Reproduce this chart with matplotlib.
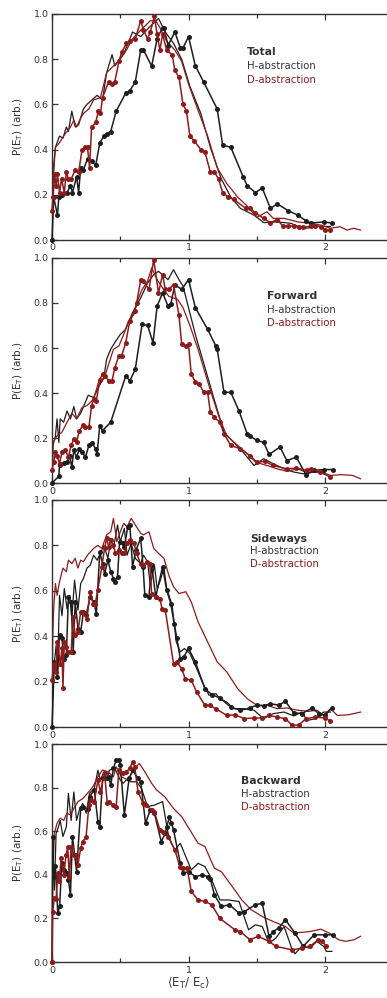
import numpy as np
import matplotlib
matplotlib.use("Agg")
import matplotlib.pyplot as plt

H_COLOR = "#1e1e1e"
D_COLOR = "#8e1b1b"
TEXT_COLOR = "#333333"

# (E_T/E_c, P) pairs; "exp" = measured with dots, "sim" = thin curve

# --- Total ---
tot_h_exp = [(0, 0), (0.012, 0.19), (0.04, 0.11), (0.05, 0.19), (0.07, 0.20), (0.11, 0.21), (0.135, 0.24),
             (0.15, 0.21), (0.18, 0.28), (0.195, 0.21), (0.21, 0.32), (0.23, 0.31), (0.26, 0.36), (0.29, 0.35),
             (0.32, 0.33), (0.35, 0.43), (0.38, 0.46), (0.40, 0.47), (0.43, 0.48), (0.47, 0.57), (0.54, 0.65),
             (0.57, 0.66), (0.61, 0.70), (0.65, 0.84), (0.67, 0.84), (0.73, 0.77), (0.77, 0.89), (0.81, 0.94),
             (0.82, 0.94), (0.85, 0.86), (0.90, 0.92), (0.94, 0.85), (0.96, 0.85), (1.0, 0.90), (1.05, 0.77),
             (1.11, 0.70), (1.21, 0.58), (1.25, 0.42), (1.31, 0.41), (1.40, 0.28), (1.43, 0.24), (1.49, 0.21),
             (1.54, 0.23), (1.60, 0.14), (1.65, 0.16), (1.73, 0.13), (1.80, 0.11), (1.86, 0.085), (1.90, 0.075),
             (1.99, 0.08), (2.05, 0.075)]
tot_h_sim = [(0, 0), (0.012, 0.33), (0.025, 0.41), (0.055, 0.46), (0.08, 0.45), (0.105, 0.50), (0.12, 0.48),
             (0.145, 0.57), (0.17, 0.50), (0.195, 0.51), (0.23, 0.58), (0.256, 0.60), (0.33, 0.64), (0.37, 0.62),
             (0.40, 0.74), (0.44, 0.82), (0.46, 0.77), (0.53, 0.83), (0.59, 0.92), (0.65, 0.90), (0.71, 0.94),
             (0.78, 0.98), (0.83, 0.92), (0.89, 0.87), (0.95, 0.80), (1.01, 0.68), (1.09, 0.56), (1.16, 0.41),
             (1.24, 0.27), (1.31, 0.19), (1.38, 0.14), (1.48, 0.11), (1.55, 0.077), (1.65, 0.08), (1.75, 0.074),
             (1.84, 0.05), (1.94, 0.06), (2.04, 0.06)]
tot_d_exp = [(0, 0.13), (0.008, 0.19), (0.02, 0.29), (0.03, 0.24), (0.04, 0.29), (0.055, 0.21), (0.07, 0.27),
             (0.09, 0.21), (0.105, 0.30), (0.12, 0.27), (0.14, 0.27), (0.17, 0.31), (0.195, 0.30), (0.22, 0.40),
             (0.245, 0.41), (0.26, 0.41), (0.275, 0.32), (0.29, 0.50), (0.32, 0.52), (0.34, 0.57), (0.355, 0.56),
             (0.37, 0.63), (0.415, 0.70), (0.44, 0.69), (0.46, 0.70), (0.49, 0.79), (0.51, 0.83), (0.545, 0.87),
             (0.57, 0.88), (0.61, 0.89), (0.65, 0.97), (0.67, 0.93), (0.70, 0.89), (0.72, 0.92), (0.75, 0.99),
             (0.77, 0.91), (0.79, 0.84), (0.81, 0.91), (0.84, 0.84), (0.88, 0.82), (0.90, 0.75), (0.93, 0.72),
             (0.96, 0.60), (0.985, 0.57), (1.01, 0.46), (1.04, 0.44), (1.09, 0.40), (1.12, 0.39), (1.16, 0.30),
             (1.19, 0.30), (1.22, 0.27), (1.25, 0.21), (1.29, 0.19), (1.33, 0.18), (1.42, 0.14), (1.45, 0.14),
             (1.49, 0.12), (1.55, 0.096), (1.60, 0.077), (1.65, 0.09), (1.69, 0.063), (1.73, 0.062), (1.77, 0.062),
             (1.81, 0.059), (1.84, 0.056), (1.90, 0.062), (1.93, 0.063), (1.97, 0.059), (2.0, 0.044), (2.04, 0.044)]
tot_d_sim = [(0, 0), (0.005, 0.24), (0.025, 0.41), (0.055, 0.43), (0.085, 0.46), (0.11, 0.48), (0.135, 0.50),
             (0.16, 0.53), (0.18, 0.50), (0.21, 0.54), (0.23, 0.56), (0.27, 0.58), (0.305, 0.62), (0.355, 0.63),
             (0.40, 0.74), (0.45, 0.77), (0.50, 0.80), (0.545, 0.84), (0.59, 0.89), (0.62, 0.91), (0.67, 0.94),
             (0.72, 0.97), (0.76, 0.97), (0.79, 0.94), (0.84, 0.88), (0.90, 0.84), (0.95, 0.79), (1.0, 0.69),
             (1.06, 0.59), (1.14, 0.46), (1.21, 0.32), (1.28, 0.25), (1.36, 0.19), (1.43, 0.15), (1.50, 0.10),
             (1.575, 0.125), (1.62, 0.096), (1.70, 0.096), (1.80, 0.08), (1.89, 0.074), (1.97, 0.066),
             (2.04, 0.052), (2.11, 0.059), (2.16, 0.044), (2.21, 0.052), (2.26, 0.044)]

# --- Forward ---
fwd_h_exp = [(0, 0), (0.05, 0.03), (0.055, 0.08), (0.085, 0.09), (0.11, 0.093), (0.13, 0.12), (0.145, 0.07),
             (0.16, 0.145), (0.18, 0.115), (0.20, 0.15), (0.22, 0.137), (0.245, 0.115), (0.27, 0.167),
             (0.29, 0.18), (0.32, 0.152), (0.33, 0.13), (0.35, 0.255), (0.37, 0.233), (0.43, 0.27), (0.54, 0.476),
             (0.57, 0.454), (0.61, 0.506), (0.66, 0.705), (0.70, 0.70), (0.74, 0.624), (0.77, 0.786),
             (0.81, 0.845), (0.85, 0.786), (0.87, 0.794), (0.90, 0.882), (0.95, 0.86), (1.0, 0.904), (1.05, 0.779),
             (1.14, 0.683), (1.20, 0.609), (1.21, 0.594), (1.26, 0.403), (1.31, 0.403), (1.37, 0.32),
             (1.43, 0.218), (1.45, 0.21), (1.50, 0.189), (1.55, 0.181), (1.59, 0.127), (1.67, 0.16), (1.72, 0.10),
             (1.79, 0.115), (1.86, 0.037), (1.92, 0.056), (1.99, 0.06), (2.06, 0.06)]
fwd_h_sim = [(0, 0), (0.007, 0.167), (0.025, 0.21), (0.037, 0.285), (0.05, 0.18), (0.06, 0.285), (0.085, 0.27),
             (0.11, 0.32), (0.135, 0.285), (0.16, 0.34), (0.18, 0.285), (0.21, 0.31), (0.245, 0.36),
             (0.265, 0.39), (0.305, 0.38), (0.34, 0.425), (0.38, 0.47), (0.40, 0.55), (0.43, 0.595),
             (0.46, 0.624), (0.50, 0.66), (0.54, 0.683), (0.59, 0.757), (0.61, 0.779), (0.65, 0.823),
             (0.70, 0.889), (0.745, 0.926), (0.78, 0.941), (0.82, 0.919), (0.85, 0.904), (0.89, 0.948),
             (0.93, 0.904), (0.96, 0.875), (1.0, 0.779), (1.05, 0.66), (1.11, 0.535), (1.18, 0.388),
             (1.26, 0.226), (1.33, 0.181), (1.40, 0.137), (1.48, 0.078), (1.55, 0.108), (1.62, 0.086),
             (1.70, 0.063), (1.77, 0.049), (1.84, 0.041), (1.93, 0.052), (2.0, 0.041)]
fwd_d_exp = [(0, 0.06), (0.012, 0.093), (0.025, 0.14), (0.037, 0.122), (0.055, 0.086), (0.073, 0.137),
             (0.098, 0.145), (0.12, 0.115), (0.14, 0.167), (0.16, 0.196), (0.18, 0.181), (0.20, 0.233),
             (0.23, 0.258), (0.245, 0.248), (0.27, 0.248), (0.29, 0.344), (0.305, 0.373), (0.325, 0.366),
             (0.35, 0.46), (0.37, 0.484), (0.39, 0.476), (0.415, 0.454), (0.44, 0.454), (0.46, 0.513),
             (0.49, 0.565), (0.51, 0.565), (0.54, 0.624), (0.57, 0.72), (0.605, 0.764), (0.62, 0.80),
             (0.65, 0.904), (0.67, 0.897), (0.71, 0.86), (0.745, 0.993), (0.78, 0.845), (0.81, 0.926),
             (0.83, 0.86), (0.855, 0.86), (0.89, 0.882), (0.93, 0.745), (0.95, 0.616), (0.98, 0.609),
             (1.0, 0.616), (1.02, 0.484), (1.05, 0.45), (1.08, 0.44), (1.11, 0.403), (1.14, 0.403), (1.16, 0.314),
             (1.19, 0.292), (1.23, 0.27), (1.26, 0.218), (1.31, 0.167), (1.38, 0.152), (1.45, 0.122),
             (1.50, 0.093), (1.56, 0.096), (1.62, 0.078), (1.72, 0.063), (1.79, 0.066), (1.87, 0.056),
             (1.90, 0.063), (1.96, 0.049), (2.04, 0.027)]
fwd_d_sim = [(0, 0), (0.007, 0.18), (0.037, 0.21), (0.073, 0.226), (0.11, 0.27), (0.145, 0.31), (0.18, 0.285),
             (0.22, 0.336), (0.256, 0.344), (0.305, 0.373), (0.34, 0.447), (0.38, 0.462), (0.415, 0.528),
             (0.45, 0.594), (0.49, 0.609), (0.525, 0.66), (0.56, 0.72), (0.60, 0.749), (0.62, 0.80), (0.66, 0.86),
             (0.70, 0.897), (0.73, 0.956), (0.77, 0.904), (0.81, 0.867), (0.855, 0.83), (0.92, 0.816),
             (0.96, 0.779), (1.01, 0.70), (1.07, 0.594), (1.15, 0.432), (1.22, 0.30), (1.28, 0.21),
             (1.36, 0.167), (1.43, 0.13), (1.49, 0.093), (1.575, 0.078), (1.65, 0.063), (1.72, 0.052),
             (1.80, 0.063), (1.87, 0.046), (1.97, 0.049), (2.04, 0.034), (2.12, 0.037), (2.20, 0.034),
             (2.26, 0.019)]

# --- Sideways ---
side_h_exp = [(0, 0), (0.017, 0.287), (0.04, 0.22), (0.055, 0.404), (0.073, 0.39), (0.085, 0.30),
              (0.105, 0.316), (0.12, 0.574), (0.14, 0.551), (0.155, 0.331), (0.17, 0.551), (0.19, 0.434),
              (0.21, 0.419), (0.23, 0.507), (0.25, 0.493), (0.28, 0.574), (0.305, 0.551), (0.325, 0.50),
              (0.35, 0.772), (0.37, 0.72), (0.385, 0.676), (0.41, 0.735), (0.43, 0.684), (0.45, 0.654),
              (0.46, 0.64), (0.48, 0.662), (0.495, 0.816), (0.52, 0.809), (0.53, 0.794), (0.555, 0.882),
              (0.57, 0.89), (0.59, 0.706), (0.615, 0.78), (0.65, 0.831), (0.667, 0.706), (0.68, 0.581),
              (0.71, 0.574), (0.73, 0.713), (0.76, 0.574), (0.81, 0.706), (0.84, 0.603), (0.87, 0.544),
              (0.895, 0.456), (0.915, 0.39), (0.94, 0.30), (0.965, 0.309), (1.0, 0.346), (1.05, 0.287),
              (1.12, 0.169), (1.17, 0.143), (1.23, 0.128), (1.31, 0.088), (1.38, 0.074), (1.45, 0.084),
              (1.50, 0.096), (1.55, 0.093), (1.60, 0.103), (1.66, 0.096), (1.71, 0.113), (1.77, 0.063),
              (1.83, 0.059), (1.905, 0.084), (1.955, 0.059), (2.0, 0.051), (2.05, 0.084)]
side_h_sim = [(0, 0), (0.007, 0.257), (0.02, 0.30), (0.03, 0.36), (0.04, 0.24), (0.055, 0.58), (0.073, 0.49),
              (0.09, 0.61), (0.11, 0.52), (0.13, 0.58), (0.145, 0.478), (0.165, 0.647), (0.19, 0.515),
              (0.21, 0.632), (0.23, 0.654), (0.256, 0.70), (0.28, 0.713), (0.305, 0.757), (0.33, 0.735),
              (0.355, 0.765), (0.38, 0.80), (0.41, 0.743), (0.43, 0.831), (0.45, 0.787), (0.48, 0.89),
              (0.50, 0.816), (0.53, 0.875), (0.55, 0.757), (0.58, 0.809), (0.61, 0.743), (0.65, 0.72),
              (0.67, 0.757), (0.70, 0.728), (0.72, 0.625), (0.75, 0.713), (0.77, 0.61), (0.79, 0.64),
              (0.82, 0.70), (0.84, 0.61), (0.88, 0.537), (0.91, 0.375), (0.94, 0.331), (0.97, 0.346),
              (1.01, 0.324), (1.06, 0.257), (1.10, 0.199), (1.15, 0.14), (1.20, 0.147), (1.23, 0.125),
              (1.28, 0.11), (1.33, 0.081), (1.40, 0.081), (1.48, 0.074), (1.55, 0.037), (1.62, 0.059),
              (1.70, 0.066), (1.77, 0.049), (1.83, 0.066), (1.87, 0.029), (1.93, 0.037), (1.99, 0.066),
              (2.04, 0.066)]
side_d_exp = [(0, 0.206), (0.012, 0.279), (0.03, 0.243), (0.04, 0.375), (0.06, 0.279), (0.073, 0.346),
              (0.08, 0.172), (0.09, 0.375), (0.105, 0.353), (0.12, 0.331), (0.14, 0.331), (0.155, 0.485),
              (0.17, 0.404), (0.19, 0.419), (0.21, 0.507), (0.23, 0.507), (0.256, 0.478), (0.28, 0.596),
              (0.30, 0.544), (0.317, 0.544), (0.335, 0.603), (0.365, 0.706), (0.385, 0.787), (0.40, 0.831),
              (0.415, 0.794), (0.43, 0.824), (0.45, 0.80), (0.465, 0.765), (0.49, 0.779), (0.51, 0.765),
              (0.53, 0.765), (0.55, 0.809), (0.57, 0.824), (0.60, 0.809), (0.62, 0.765), (0.65, 0.716),
              (0.667, 0.713), (0.696, 0.728), (0.716, 0.72), (0.73, 0.588), (0.76, 0.574), (0.79, 0.566),
              (0.806, 0.522), (0.83, 0.515), (0.89, 0.279), (0.915, 0.287), (0.95, 0.257), (0.976, 0.213),
              (1.02, 0.206), (1.06, 0.154), (1.12, 0.096), (1.155, 0.096), (1.20, 0.081), (1.28, 0.051),
              (1.34, 0.054), (1.41, 0.037), (1.48, 0.04), (1.54, 0.04), (1.59, 0.051), (1.65, 0.044),
              (1.71, 0.037), (1.76, 0.007), (1.81, 0.01), (1.86, 0.037), (1.93, 0.044), (2.0, 0.04),
              (2.04, 0.026)]
side_d_sim = [(0, 0), (0.005, 0.39), (0.012, 0.52), (0.025, 0.632), (0.037, 0.58), (0.055, 0.64), (0.08, 0.70),
              (0.105, 0.684), (0.12, 0.735), (0.145, 0.72), (0.17, 0.743), (0.19, 0.70), (0.21, 0.735),
              (0.23, 0.728), (0.26, 0.757), (0.305, 0.787), (0.335, 0.80), (0.365, 0.787), (0.40, 0.846),
              (0.43, 0.86), (0.45, 0.919), (0.475, 0.816), (0.50, 0.86), (0.525, 0.897), (0.55, 0.882),
              (0.58, 0.919), (0.61, 0.89), (0.65, 0.853), (0.67, 0.846), (0.71, 0.86), (0.745, 0.787),
              (0.78, 0.765), (0.82, 0.743), (0.855, 0.669), (0.89, 0.618), (0.93, 0.588), (0.98, 0.596),
              (1.02, 0.551), (1.07, 0.463), (1.14, 0.375), (1.21, 0.287), (1.28, 0.243), (1.36, 0.169),
              (1.43, 0.125), (1.50, 0.096), (1.575, 0.096), (1.65, 0.081), (1.72, 0.084), (1.80, 0.074),
              (1.88, 0.069), (1.94, 0.074), (1.99, 0.051), (2.04, 0.081), (2.09, 0.051), (2.17, 0.054),
              (2.21, 0.059), (2.26, 0.066)]

# --- Backward ---
back_h_exp = [(0, 0), (0.005, 0.576), (0.012, 0.39), (0.025, 0.44), (0.042, 0.224), (0.056, 0.255),
              (0.071, 0.453), (0.09, 0.423), (0.11, 0.408), (0.12, 0.377), (0.135, 0.308), (0.15, 0.576),
              (0.18, 0.415), (0.21, 0.705), (0.23, 0.713), (0.26, 0.70), (0.275, 0.759), (0.31, 0.79),
              (0.336, 0.644), (0.35, 0.62), (0.37, 0.843), (0.40, 0.843), (0.415, 0.85), (0.43, 0.812),
              (0.45, 0.889), (0.47, 0.927), (0.49, 0.927), (0.50, 0.904), (0.53, 0.675), (0.565, 0.843),
              (0.59, 0.88), (0.63, 0.843), (0.65, 0.827), (0.685, 0.637), (0.72, 0.698), (0.75, 0.683),
              (0.80, 0.553), (0.83, 0.591), (0.84, 0.621), (0.86, 0.664), (0.875, 0.637), (0.89, 0.606),
              (0.94, 0.453), (0.96, 0.408), (1.0, 0.415), (1.05, 0.392), (1.10, 0.40), (1.14, 0.392),
              (1.16, 0.38), (1.19, 0.308), (1.24, 0.255), (1.30, 0.263), (1.37, 0.224), (1.41, 0.232),
              (1.49, 0.263), (1.54, 0.27), (1.59, 0.118), (1.62, 0.14), (1.66, 0.156), (1.71, 0.194),
              (1.78, 0.133), (1.84, 0.072), (1.92, 0.125), (2.0, 0.125), (2.06, 0.125)]
back_h_sim = [(0, 0), (0.005, 0.56), (0.017, 0.33), (0.03, 0.59), (0.047, 0.62), (0.06, 0.65), (0.08, 0.576),
              (0.105, 0.62), (0.12, 0.774), (0.14, 0.65), (0.16, 0.78), (0.18, 0.65), (0.20, 0.698),
              (0.225, 0.728), (0.25, 0.683), (0.275, 0.774), (0.31, 0.797), (0.336, 0.88), (0.355, 0.835),
              (0.38, 0.873), (0.40, 0.835), (0.42, 0.88), (0.46, 0.889), (0.50, 0.835), (0.52, 0.82),
              (0.544, 0.835), (0.58, 0.827), (0.62, 0.827), (0.655, 0.797), (0.70, 0.713), (0.75, 0.72),
              (0.81, 0.736), (0.85, 0.591), (0.875, 0.545), (0.90, 0.515), (0.94, 0.545), (0.985, 0.476),
              (1.02, 0.423), (1.07, 0.453), (1.12, 0.438), (1.16, 0.392), (1.23, 0.285), (1.29, 0.285),
              (1.37, 0.278), (1.44, 0.148), (1.49, 0.171), (1.54, 0.163), (1.59, 0.087), (1.64, 0.11),
              (1.70, 0.163), (1.76, 0.056), (1.78, 0.038), (1.83, 0.072), (1.89, 0.064), (1.94, 0.095),
              (1.99, 0.072), (2.01, 0.049), (2.05, 0.049)]
back_d_exp = [(0, 0), (0.005, 0.232), (0.017, 0.293), (0.03, 0.289), (0.042, 0.408), (0.054, 0.37),
              (0.066, 0.476), (0.086, 0.40), (0.103, 0.492), (0.115, 0.527), (0.127, 0.392), (0.14, 0.53),
              (0.16, 0.492), (0.176, 0.492), (0.19, 0.446), (0.21, 0.522), (0.225, 0.553), (0.25, 0.576),
              (0.27, 0.72), (0.287, 0.744), (0.31, 0.736), (0.336, 0.835), (0.355, 0.782), (0.385, 0.866),
              (0.405, 0.728), (0.42, 0.736), (0.45, 0.72), (0.47, 0.713), (0.49, 0.881), (0.52, 0.866),
              (0.544, 0.873), (0.57, 0.889), (0.59, 0.919), (0.605, 0.896), (0.63, 0.782), (0.667, 0.728),
              (0.69, 0.72), (0.73, 0.698), (0.75, 0.69), (0.79, 0.606), (0.81, 0.598), (0.85, 0.576),
              (0.90, 0.515), (0.936, 0.438), (0.96, 0.43), (0.99, 0.43), (1.02, 0.324), (1.07, 0.285),
              (1.12, 0.278), (1.17, 0.263), (1.23, 0.20), (1.34, 0.148), (1.38, 0.14), (1.45, 0.102),
              (1.51, 0.118), (1.59, 0.095), (1.64, 0.072), (1.76, 0.056), (1.83, 0.064), (1.89, 0.072),
              (1.95, 0.102), (1.98, 0.095), (2.01, 0.072)]
back_d_sim = [(0, 0), (0.005, 0.377), (0.017, 0.59), (0.037, 0.637), (0.06, 0.66), (0.086, 0.65),
              (0.11, 0.683), (0.135, 0.675), (0.16, 0.705), (0.19, 0.736), (0.225, 0.75), (0.26, 0.774),
              (0.30, 0.805), (0.336, 0.85), (0.37, 0.881), (0.41, 0.873), (0.45, 0.85), (0.47, 0.896),
              (0.51, 0.85), (0.556, 0.835), (0.605, 0.889), (0.64, 0.911), (0.68, 0.873), (0.73, 0.82),
              (0.765, 0.79), (0.825, 0.759), (0.89, 0.705), (0.95, 0.667), (1.01, 0.606), (1.07, 0.545),
              (1.12, 0.53), (1.19, 0.43), (1.24, 0.415), (1.32, 0.347), (1.39, 0.285), (1.46, 0.24),
              (1.54, 0.209), (1.62, 0.186), (1.71, 0.163), (1.77, 0.133), (1.84, 0.137), (1.89, 0.14),
              (1.97, 0.151), (2.04, 0.13), (2.10, 0.102), (2.15, 0.095), (2.21, 0.102), (2.26, 0.118)]

panel_names = ["Total", "Forward", "Sideways", "Backward"]
panel_series = [
    (tot_h_exp, tot_h_sim, tot_d_exp, tot_d_sim),
    (fwd_h_exp, fwd_h_sim, fwd_d_exp, fwd_d_sim),
    (side_h_exp, side_h_sim, side_d_exp, side_d_sim),
    (back_h_exp, back_h_sim, back_d_exp, back_d_sim),
]

plt.rcParams["font.family"] = "DejaVu Sans"
plt.rcParams["mathtext.default"] = "regular"

fig = plt.figure(figsize=(3.87, 9.98), dpi=100)

# left, bottom, width, height (figure fraction); right side runs off the page
boxes = [(0.1344, 0.7595, 0.8656, 0.2265),
         (0.1344, 0.5160, 0.8656, 0.2255),
         (0.1344, 0.2715, 0.8656, 0.2275),
         (0.1344, 0.0360, 0.8656, 0.2184)]
label_x = [1.43, 1.575, 1.45, 1.385]
label_y = [(0.83, 0.77, 0.71), (0.83, 0.77, 0.71), (0.83, 0.775, 0.72), (0.83, 0.77, 0.71)]


def xy(pts):
    a = np.array(pts, dtype=float)
    return a[:, 0], a[:, 1]


for box, name, series, lx, ly in zip(boxes, panel_names, panel_series, label_x, label_y):
    h_exp, h_sim, d_exp, d_sim = series
    ax = fig.add_axes(box)

    x, y = xy(h_sim)
    ax.plot(x, y, color=H_COLOR, lw=0.9, zorder=2)
    x, y = xy(d_sim)
    ax.plot(x, y, color=D_COLOR, lw=0.9, zorder=2)
    x, y = xy(h_exp)
    ax.plot(x, y, color=H_COLOR, lw=1.1, marker="o", ms=3.6, mew=0, zorder=3, clip_on=False)
    x, y = xy(d_exp)
    ax.plot(x, y, color=D_COLOR, lw=1.1, marker="o", ms=3.6, mew=0, zorder=4, clip_on=False)

    ax.set_xlim(0, 2.454)
    ax.set_ylim(0, 1.0)
    ax.set_xticks([0, 1, 2])
    ax.set_xticklabels(["0", "1", "2"])
    ax.set_xticks([0.5, 1.5], minor=True)
    ax.set_yticks([0.0, 0.2, 0.4, 0.6, 0.8, 1.0])
    ax.set_yticklabels(["0.0", "0.2", "0.4", "0.6", "0.8", "1.0"])
    ax.tick_params(which="both", direction="in", top=True, right=False, length=4, width=0.9,
                   color=TEXT_COLOR, labelsize=6.8, labelcolor=TEXT_COLOR, pad=2.5)
    ax.tick_params(axis="x", which="minor", length=3)
    for side in ["left", "bottom", "top"]:
        ax.spines[side].set_linewidth(1.0)
        ax.spines[side].set_color(TEXT_COLOR)
    ax.spines["right"].set_visible(False)

    ax.set_ylabel(r"P(E$_\mathrm{T}$) (arb.)", fontsize=7.5, color=TEXT_COLOR)
    ax.yaxis.set_label_coords(-0.08, 0.5)

    ax.text(lx, ly[0], name, fontsize=7.8, fontweight="bold", color=TEXT_COLOR, va="center")
    ax.text(lx, ly[1], "H-abstraction", fontsize=7.3, color=TEXT_COLOR, va="center")
    ax.text(lx, ly[2], "D-abstraction", fontsize=7.3, color=D_COLOR, va="center")

ax.set_xlabel(r"$\langle$E$_\mathrm{T}$/ E$_\mathrm{c}$$\rangle$", fontsize=8.5, color=TEXT_COLOR)
ax.xaxis.set_label_coords(1.0 / 2.454, -0.065)

fig.savefig("out.png", dpi=100)
